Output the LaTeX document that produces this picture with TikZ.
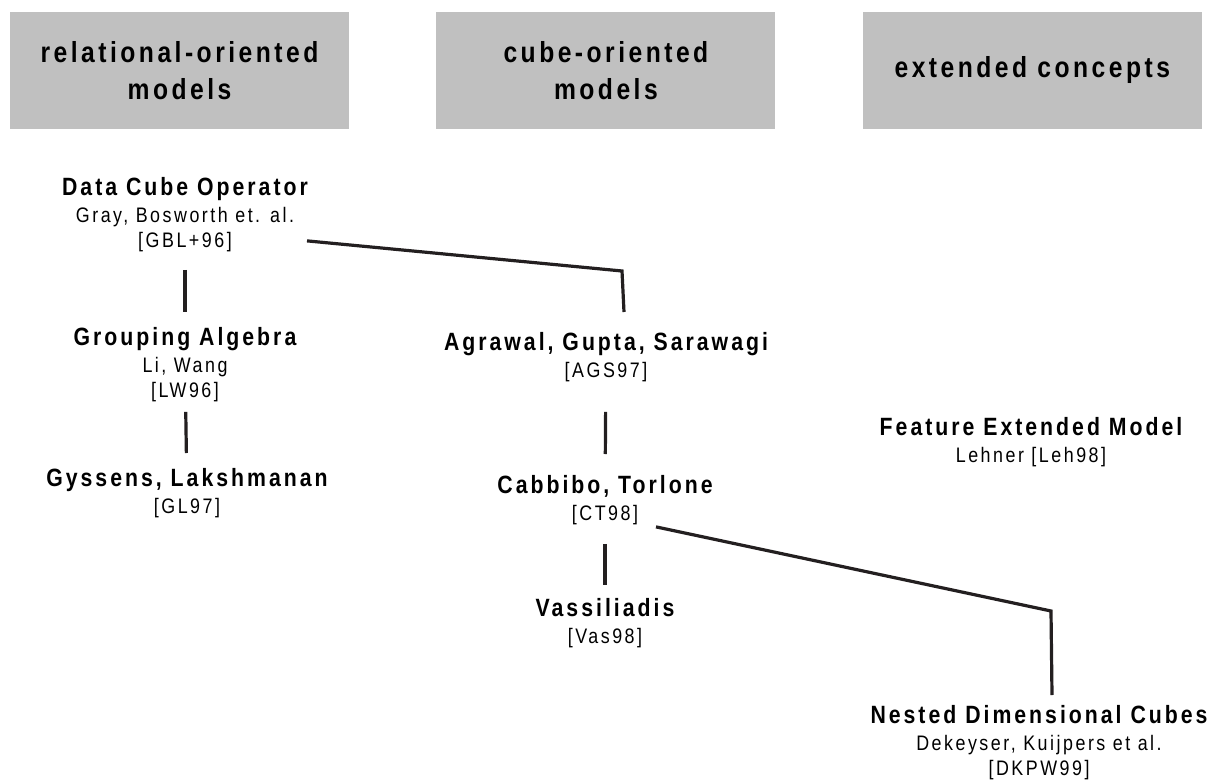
\documentclass[tikz,border=0pt]{standalone}
\usepackage{fontspec}
\setmainfont{Liberation Sans}[FakeStretch=0.85, LetterSpace=12]
\usepackage{tikz}
\usetikzlibrary{positioning}
\usepackage{xcolor}
\definecolor{boxgray}{RGB}{192,192,192}
\definecolor{ink}{RGB}{35,31,32}
\newcommand{\ttl}[1]{{\fontsize{25}{25}\selectfont\bfseries #1}}

\begin{document}
\begin{tikzpicture}[x=1pt, y=-1pt,
  head/.style = {fill=boxgray, minimum width=339pt, minimum height=117pt, inner sep=0pt, align=center, font=\fontsize{29}{37}\selectfont\bfseries},
  entry/.style = {anchor=north, inner sep=0pt, align=center, font=\fontsize{21}{25}\selectfont},
  link/.style = {draw=ink, line width=3.2pt},
  node distance=87pt]
\useasboundingbox (0,0) rectangle (1221,781);
% column heads
\node[head] (rel) at (179.5,70.5) {relational-oriented\\models};
\node[head] (cube) [right=of rel] {cube-oriented\\models};
\node[head] (ext) [right=of cube] {extended concepts};
% models
\node[entry] (dco) at (185,177) {\ttl{Data Cube Operator}\\[2pt] Gray, Bosworth et. al.\\ {[GBL+96]}};
\node[entry] (ga) at (185,327) {\ttl{Grouping Algebra}\\[2pt] Li, Wang\\ {[LW96]}};
\node[entry] (gl) at (187,468) {\ttl{Gyssens, Lakshmanan}\\[2pt] {[GL97]}};
\node[entry] (ags) at (606,332) {\ttl{Agrawal, Gupta, Sarawagi}\\[2pt] {[AGS97]}};
\node[entry] (ct) at (605,475) {\ttl{Cabbibo, Torlone}\\[2pt] {[CT98]}};
\node[entry] (vas) at (605,598) {\ttl{Vassiliadis}\\[2pt] {[Vas98]}};
\node[entry] (fem) at (1031,417) {\ttl{Feature Extended Model}\\[2pt] Lehner [Leh98]};
\node[entry] (ndc) at (1039,705) {\ttl{Nested Dimensional Cubes}\\[2pt] Dekeyser, Kuijpers et al.\\ {[DKPW99]}};
% links
\draw[link, shorten <=18pt, shorten >=15pt] (dco) -- (ga);
\draw[link, shorten <=10pt, shorten >=15pt] (ga) -- (gl);
\draw[link, shorten <=30pt, shorten >=21pt] (ags) -- (ct);
\draw[link, shorten <=19pt, shorten >=13pt] (ct) -- (vas);
\draw[link] ([xshift=122pt, yshift=11pt]dco.south) -- ([xshift=16pt, yshift=61pt]ags.north) -- ([xshift=18pt, yshift=20pt]ags.north);
\draw[link] ([xshift=51pt, yshift=-2pt]ct.south) -- ([xshift=12pt, yshift=94pt]ndc.north) -- ([xshift=13pt, yshift=10pt]ndc.north);
\end{tikzpicture}
\end{document}
